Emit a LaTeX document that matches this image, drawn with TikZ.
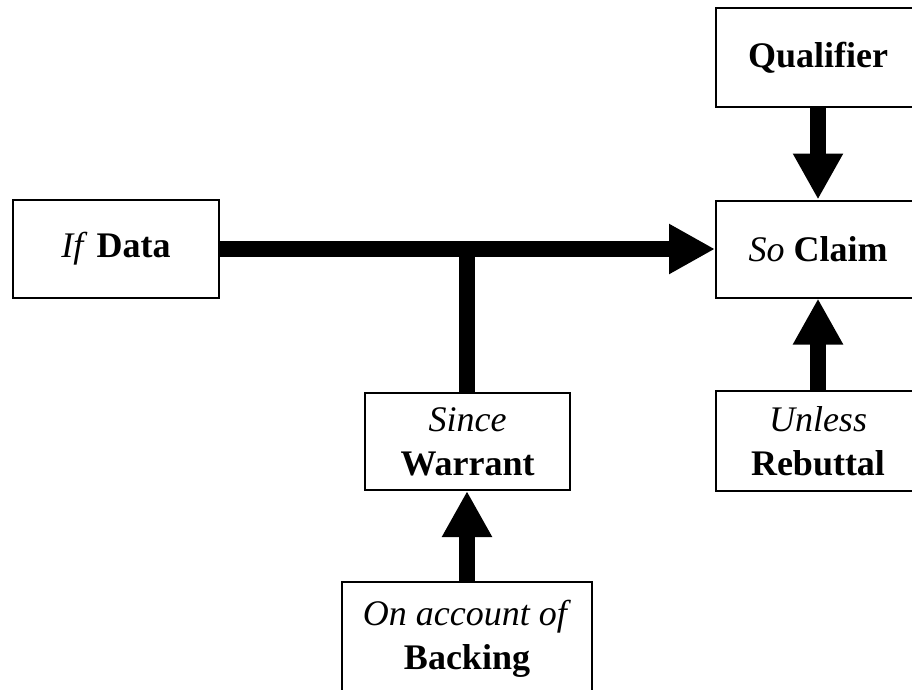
\documentclass[tikz,border=0pt]{standalone}
\usepackage{fontspec}
\setmainfont{Liberation Serif}
\usetikzlibrary{arrows.meta}

\tikzset{
  box/.style={draw=black, line width=2pt, fill=white, inner sep=0pt,
    align=center, font=\fontsize{36}{44}\selectfont},
  thick link/.style={line width=16pt, draw=black},
  link arrow/.style={thick link, -{Triangle[width=47pt,length=46pt]}}
}

\begin{document}
\begin{tikzpicture}[x=1pt, y=-1pt]
  \useasboundingbox (0,0) rectangle (912,689);
  \clip (0,0) rectangle (912,689);

  % argument components
  \node[box, minimum width=206pt, minimum height=98pt] (data) at (116,249)
    {\textit{If} \textbf{Data}};
  \node[box, minimum width=204pt, minimum height=97pt] (claim) at (818,249)
    {\textit{So} \textbf{Claim}};
  \node[box, minimum width=204pt, minimum height=99pt] (qual) at (818,57.5)
    {\textbf{Qualifier}};
  \node[box, minimum width=204pt, minimum height=100pt] (rebut) at (818,441)
    {\textit{Unless}\\\textbf{Rebuttal}};
  \node[box, minimum width=205pt, minimum height=97pt] (warrant) at (467.5,441.5)
    {\textit{Since}\\\textbf{Warrant}};
  \node[box, minimum width=250pt, minimum height=113pt] (backing) at (467,638.5)
    {\textit{On account of}\\\textbf{Backing}};

  % junction of the warrant on the data-claim line
  \coordinate (junction) at (467,249);

  % connectors
  \draw[link arrow] (data.east) -- (claim.west);
  \draw[thick link] (warrant.north -| junction) -- (junction);
  \draw[link arrow] (qual.south) -- (claim.north);
  \draw[link arrow] (rebut.north) -- (claim.south);
  \draw[link arrow] (backing.north -| junction) -- (warrant.south -| junction);
\end{tikzpicture}
\end{document}
